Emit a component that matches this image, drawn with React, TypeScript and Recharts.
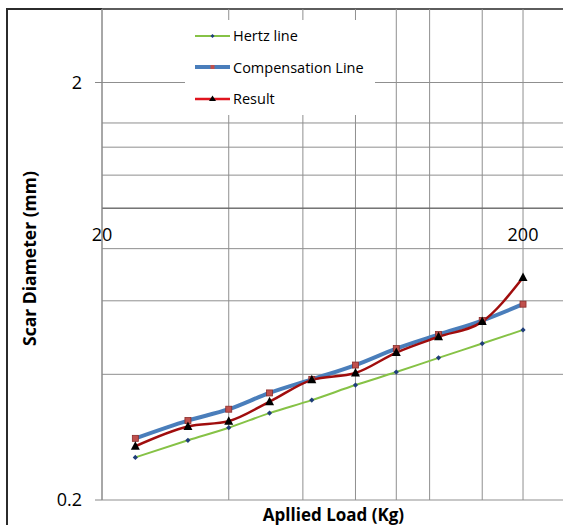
import {
  LineChart,
  Line,
  XAxis,
  YAxis,
  CartesianGrid,
  Legend,
  ReferenceDot,
  ReferenceLine,
} from "recharts";

const loads = [24, 32, 40, 50, 63, 80, 100, 126, 160, 200];
const hertz = [0.253, 0.278, 0.298, 0.323, 0.347, 0.377, 0.405, 0.438, 0.474, 0.511];
const compensation = [0.281, 0.31, 0.33, 0.361, 0.389, 0.421, 0.461, 0.498, 0.538, 0.589];
const result = [0.269, 0.3, 0.309, 0.344, 0.388, 0.403, 0.451, 0.492, 0.535, 0.682];

const xTicks = [20, 40, 60, 80, 100, 120, 140, 160, 180, 200];
const xLabels = [20, 200];
const yTicks = [0.2, 0.4, 0.6, 0.8, 1, 1.2, 1.4, 1.6, 1.8, 2];
const yLabels = [0.2, 2];

const data = loads.map((load, i) => ({
  load,
  hertz: hertz[i],
  compensation: compensation[i],
  result: result[i],
}));

const GREEN = "#86c246";
const BLUE = "#4a7ebb";
const RED = "#a00d0d";
const FONT = "'Open Sans', sans-serif";

const Diamond = (props: any) => {
  const { cx, cy, index } = props;
  if (cx == null || cy == null) return <g key={`d-${index}`} />;
  const s = 2.6;
  return (
    <polygon
      key={`d-${index}`}
      points={`${cx},${cy - s} ${cx + s},${cy} ${cx},${cy + s} ${cx - s},${cy}`}
      fill="#1f3d7a"
    />
  );
};

const Square = (props: any) => {
  const { cx, cy, index } = props;
  if (cx == null || cy == null) return <g key={`s-${index}`} />;
  return (
    <rect
      key={`s-${index}`}
      x={cx - 3}
      y={cy - 3}
      width={6}
      height={6}
      fill="#c0504d"
      stroke="#8b2c2a"
      strokeWidth={0.8}
    />
  );
};

const Triangle = (props: any) => {
  const { cx, cy, index } = props;
  if (cx == null || cy == null) return <g key={`t-${index}`} />;
  return (
    <polygon
      key={`t-${index}`}
      points={`${cx},${cy - 5} ${cx + 4.5},${cy + 3.5} ${cx - 4.5},${cy + 3.5}`}
      fill="#000"
    />
  );
};

const YTick = (props: any) => {
  const { x, y, payload } = props;
  if (!yLabels.includes(payload.value)) return <g />;
  return (
    <g>
      <line x1={x + 13} x2={x + 20} y1={y} y2={y} stroke="#888" />
      <text x={x} y={y} dy={6} textAnchor="end" fontSize={18} fill="#000" fontFamily={FONT}>
        {payload.value}
      </text>
    </g>
  );
};

// x tick labels sit on the y = 1 crossing instead, so the bottom ticks draw nothing
const EmptyTick = () => <g />;

const legendItems = [
  { name: "Hertz line", color: GREEN, width: 2, marker: "diamond" },
  { name: "Compensation Line", color: BLUE, width: 4, marker: "square" },
  { name: "Result", color: "#e0141e", width: 2.5, marker: "triangle" },
];

const LegendBox = () => (
  <div style={{ background: "#fff", width: 190, height: 95, paddingLeft: 10, boxSizing: "border-box" }}>
    {legendItems.map((item) => (
      <div key={item.name} style={{ display: "flex", alignItems: "center", height: 31.5 }}>
        <svg width={35} height={12} style={{ marginRight: 3 }}>
          <line x1={0} x2={35} y1={6} y2={6} stroke={item.color} strokeWidth={item.width} />
          {item.marker === "diamond" && <polygon points="17.5,4 19.5,6 17.5,8 15.5,6" fill="#1f3d7a" />}
          {item.marker === "square" && <rect x={15.5} y={4} width={4} height={4} fill="#c0504d" />}
          {item.marker === "triangle" && <polygon points="17.5,2.5 21,8 14,8" fill="#000" />}
        </svg>
        <span style={{ fontSize: 14.5, color: "#000", fontFamily: FONT }}>{item.name}</span>
      </div>
    ))}
  </div>
);

export default function App() {
  return (
    <div
      style={{
        position: "absolute",
        left: 0,
        top: 0,
        width: 563,
        height: 525,
        overflow: "hidden",
        background: "#fff",
        fontFamily: FONT,
      }}
    >
      {/* outer chart frame */}
      <div
        style={{
          position: "absolute",
          left: 6,
          top: 8,
          width: 700,
          height: 700,
          borderLeft: "2px solid #2b2b2b",
          borderTop: "2px solid #2b2b2b",
        }}
      />
      <div style={{ position: "absolute", left: 0, top: 0 }}>
        <LineChart width={600} height={560} data={data} margin={{ top: 9, right: 29, bottom: 30, left: 0 }}>
          <CartesianGrid stroke="#8f8f8f" strokeWidth={1} />
          <XAxis
            dataKey="load"
            type="number"
            scale="log"
            domain={[20, 260]}
            allowDataOverflow
            ticks={xTicks}
            tick={EmptyTick}
            tickLine={false}
            axisLine={false}
            height={30}
            label={{
              value: "Apllied Load (Kg)",
              position: "center",
              fontSize: 17,
              fontWeight: 700,
              fill: "#000",
              dx: -3,
            }}
          />
          <YAxis
            type="number"
            scale="log"
            domain={[0.2, 3]}
            allowDataOverflow
            ticks={yTicks}
            width={102}
            tickSize={7}
            tickMargin={13}
            tickLine={false}
            axisLine={{ stroke: "#888" }}
            tick={YTick}
            label={{
              content: (p: any) => {
                const vb = p.viewBox;
                const cx = vb.x + 29;
                const cy = vb.y + vb.height / 2 + 4;
                return (
                  <text
                    x={cx}
                    y={cy}
                    transform={`rotate(-90 ${cx} ${cy})`}
                    textAnchor="middle"
                    dominantBaseline="central"
                    fontSize={17.5}
                    fontWeight={700}
                    fill="#000"
                    fontFamily={FONT}
                  >
                    Scar Diameter (mm)
                  </text>
                );
              },
            }}
          />
          <ReferenceLine y={1} stroke="#5a5a5a" strokeWidth={1} />
          {xLabels.map((v) => (
            <ReferenceDot
              key={v}
              x={v}
              y={1}
              r={0}
              fill="none"
              stroke="none"
              label={{ value: String(v), position: "bottom", offset: 20, fontSize: 18, fill: "#000" }}
            />
          ))}
          <Legend
            layout="vertical"
            align="center"
            verticalAlign="middle"
            content={LegendBox}
            wrapperStyle={{ position: "absolute", left: 185, top: 20, width: 190, height: 95 }}
          />
          <Line
            type="monotone"
            dataKey="hertz"
            stroke={GREEN}
            strokeWidth={2}
            dot={Diamond}
            activeDot={false}
            isAnimationActive={false}
          />
          <Line
            type="monotone"
            dataKey="compensation"
            stroke={BLUE}
            strokeWidth={4}
            dot={Square}
            activeDot={false}
            isAnimationActive={false}
          />
          <Line
            type="monotone"
            dataKey="result"
            stroke={RED}
            strokeWidth={2.5}
            dot={Triangle}
            activeDot={false}
            isAnimationActive={false}
          />
        </LineChart>
      </div>
    </div>
  );
}
